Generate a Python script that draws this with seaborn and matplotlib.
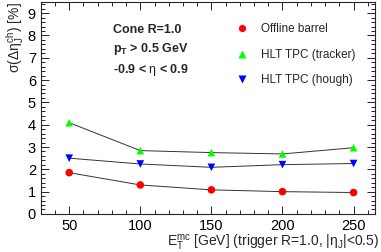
import matplotlib
matplotlib.use("Agg")
import matplotlib.pyplot as plt
import numpy as np
import pandas as pd
import seaborn as sns
from matplotlib.ticker import MultipleLocator

et_mc = [50, 100, 150, 200, 250]
offline_barrel = [1.85, 1.30, 1.08, 1.00, 0.96]
hlt_tracker = [4.09, 2.84, 2.75, 2.69, 2.97]
hlt_hough = [2.50, 2.24, 2.09, 2.21, 2.26]
series_names = ["Offline barrel", "HLT TPC (tracker)", "HLT TPC (hough)"]

df = pd.DataFrame({
    "et": et_mc * 3,
    "sigma": offline_barrel + hlt_tracker + hlt_hough,
    "series": np.repeat(series_names, len(et_mc)),
})

sns.set_style("ticks")
plt.rcParams['font.family'] = ['Liberation Sans', 'DejaVu Sans']
plt.rcParams['mathtext.fontset'] = 'custom'
plt.rcParams['mathtext.rm'] = 'Liberation Sans'
plt.rcParams['mathtext.it'] = 'Liberation Sans'
plt.rcParams['mathtext.bf'] = 'Liberation Sans:bold'

fig = plt.figure(figsize=(3.81, 2.52), dpi=100)
ax = fig.add_axes([0.107, 0.151, 0.877, 0.841])

palette = {"Offline barrel": "#ff0000", "HLT TPC (tracker)": "#00ff00", "HLT TPC (hough)": "#0000ff"}
markers = {"Offline barrel": "o", "HLT TPC (tracker)": "^", "HLT TPC (hough)": "v"}

# connecting lines
for name in series_names:
    sub = df[df["series"] == name]
    sns.lineplot(data=sub, x="et", y="sigma", color="#333333", lw=0.7, ax=ax, legend=False)

sns.scatterplot(data=df, x="et", y="sigma", hue="series", style="series",
                palette=palette, markers=markers, s=30, edgecolor="none",
                ax=ax, zorder=3)

ax.set_xlim(30, 265)
ax.set_ylim(0, 9.5)
ax.xaxis.set_major_locator(MultipleLocator(50))
ax.xaxis.set_minor_locator(MultipleLocator(10))
ax.yaxis.set_major_locator(MultipleLocator(1))
ax.yaxis.set_minor_locator(MultipleLocator(0.2))
ax.tick_params(which="both", direction="in", top=True, right=True, labelsize=10.5, colors="black")
ax.tick_params(axis="x", which="major", pad=3.5)
ax.tick_params(which="major", length=6, width=0.6)
ax.tick_params(which="minor", length=3, width=0.6)
for sp in ax.spines.values():
    sp.set_linewidth(0.8)

ax.set_xlabel(r"$\mathrm{E_T^{mc}}$ [GeV] (trigger R=1.0, |$\eta_\mathrm{J}$|<0.5)", fontsize=10, ha="right")
ax.xaxis.set_label_coords(1.012, -0.09)
ax.set_ylabel(r"$\sigma(\Delta\eta_\mathrm{J}^\mathrm{ch})$ [%]", fontsize=10, loc="top", labelpad=1)

ax.text(0.215, 0.854, "Cone R=1.0", transform=ax.transAxes, fontsize=9, fontweight="bold")
ax.text(0.215, 0.762, r"$\mathbf{p_T}$ > 0.5 GeV", transform=ax.transAxes, fontsize=9, fontweight="bold")
ax.text(0.215, 0.665, r"-0.9 < $\eta$ < 0.9", transform=ax.transAxes, fontsize=9, fontweight="bold")

handles, labels = ax.get_legend_handles_labels()
ax.legend(handles, labels, loc="upper left", bbox_to_anchor=(0.535, 0.95), frameon=False,
          fontsize=8.5, handletextpad=0.6, labelspacing=1.15, markerscale=0.95)

fig.savefig("out.png", dpi=100)
